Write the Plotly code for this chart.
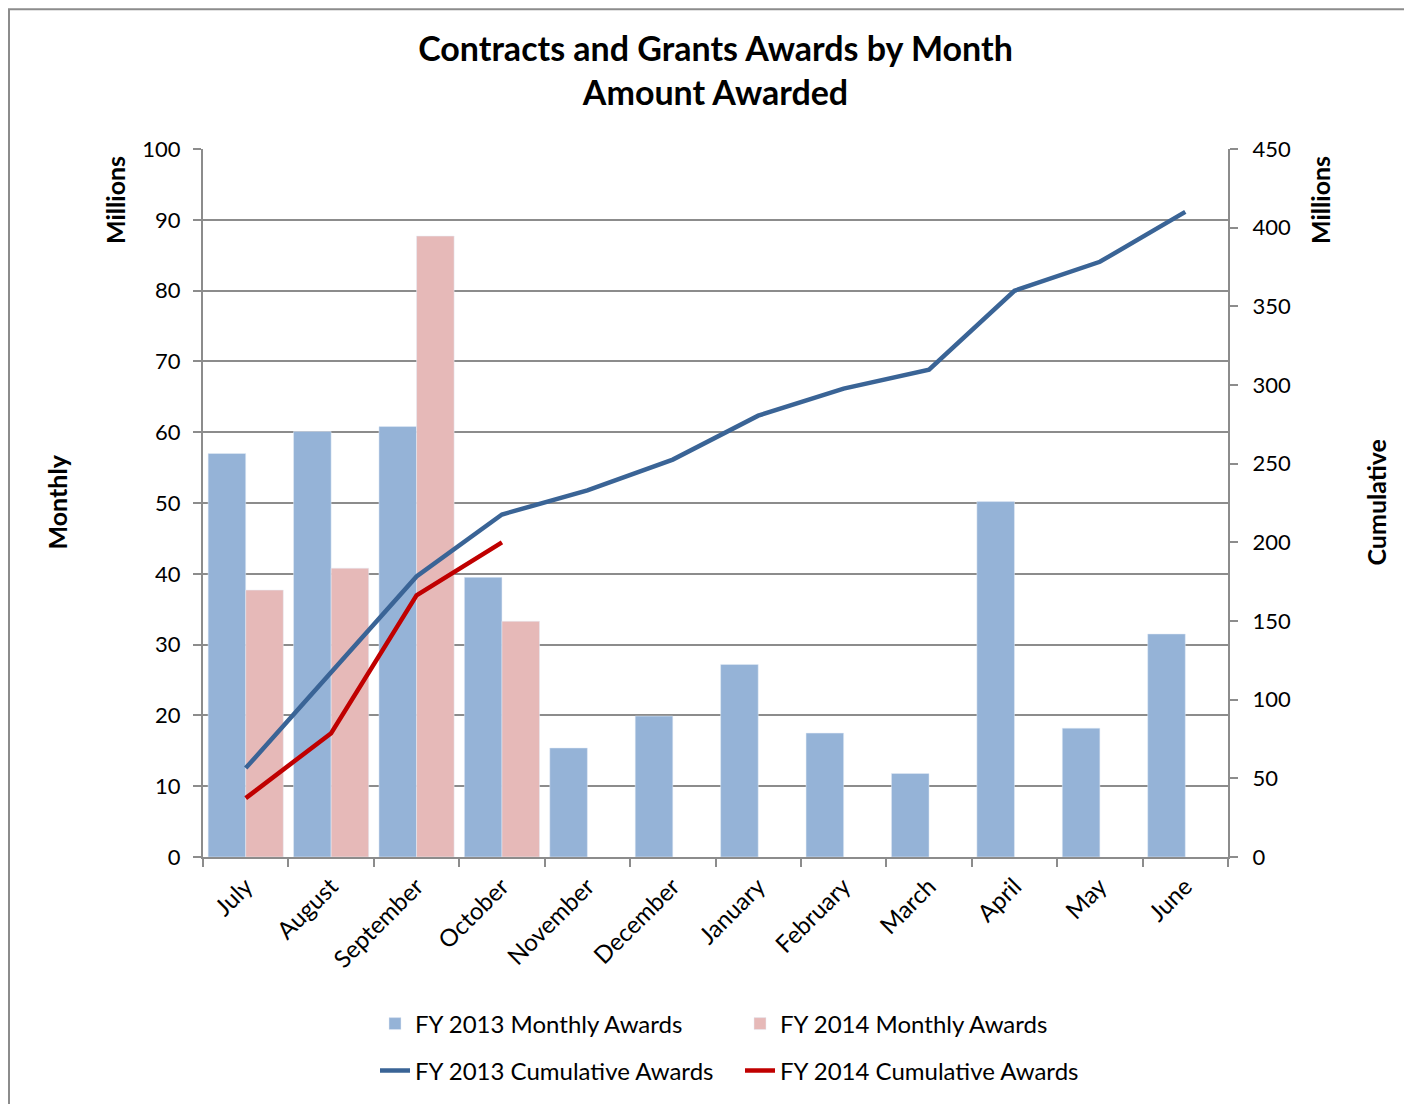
"""Contracts and Grants awards by month: monthly bars plus cumulative lines."""

import plotly.graph_objects as go

months = ["July", "August", "September", "October", "November", "December",
          "January", "February", "March", "April", "May", "June"]
fy13_monthly = [57.0, 60.1, 60.8, 39.5, 15.4, 19.9, 27.2, 17.5, 11.8, 50.2, 18.2, 31.5]
fy14_monthly = [37.7, 40.8, 87.7, 33.3]
fy13_cumulative = [56.5, 117.0, 178.3, 217.7, 233.0, 252.6, 280.5, 297.7, 309.7, 359.9, 378.3, 410.0]
fy14_cumulative = [37.4, 78.7, 166.3, 200.0]

_FONT = "Lato"
_GRID = "#8c8c8c"
_FY13_BAR = "#95B3D7"
_FY14_BAR = "#E6B9B8"
_FY13_LINE = "#3A6496"
_FY14_LINE = "#C00000"

# the page body adds 8px, so the figure is drawn 8px in from the screen edge
_OFF = 8
_W, _H = 1412 - _OFF, 1104 - _OFF
_PL, _PR, _PT, _PB = 203, 1228, 149, 858  # plot area, in screen pixels
_PW, _PH = _PR - _PL, _PB - _PT


def _px(x):
    return (x - _PL) / _PW


def _py(y):
    return (_PB - y) / _PH


fig = go.Figure()
fig.add_trace(go.Bar(x=months, y=fy13_monthly, name="FY 2013 Monthly Awards",
                     marker_color=_FY13_BAR, legend="legend"))
fig.add_trace(go.Bar(x=months[:len(fy14_monthly)], y=fy14_monthly,
                     name="FY 2014 Monthly Awards", marker_color=_FY14_BAR,
                     legend="legend"))
fig.add_trace(go.Scatter(x=months, y=fy13_cumulative, name="FY 2013 Cumulative Awards",
                         mode="lines", yaxis="y2", legend="legend2",
                         line=dict(color=_FY13_LINE, width=4.5)))
fig.add_trace(go.Scatter(x=months[:len(fy14_cumulative)], y=fy14_cumulative,
                         name="FY 2014 Cumulative Awards", mode="lines", yaxis="y2",
                         legend="legend2", line=dict(color=_FY14_LINE, width=4.5)))

axis_title = dict(xref="paper", yref="paper", showarrow=False, textangle=-90,
                  xanchor="center", yanchor="middle",
                  font=dict(family=_FONT, size=25, color="black"))
legend_style = dict(orientation="h", xanchor="left", yanchor="middle",
                    entrywidth=320, font=dict(family=_FONT, size=24),
                    traceorder="normal", bgcolor="rgba(0,0,0,0)")
tick_style = dict(showline=True, linecolor=_GRID, linewidth=2, ticks="outside",
                  ticklen=8, tickcolor=_GRID, tickwidth=2, tickfont=dict(size=22))

fig.update_layout(
    width=_W,
    height=_H,
    paper_bgcolor="white",
    plot_bgcolor="white",
    font=dict(family=_FONT, size=22, color="black"),
    title=dict(text="<b>Contracts and Grants Awards by Month<br>Amount Awarded</b>",
               x=0.5, xref="paper", xanchor="center",
               y=1 - (61 - _OFF) / _H, yref="container", yanchor="middle",
               font=dict(family=_FONT, size=34, color="black")),
    barmode="group",
    bargap=0.12,
    bargroupgap=0,
    margin=dict(l=_PL - _OFF, r=1412 - _PR, t=_PT - _OFF, b=1104 - _PB),
    xaxis=dict(tick_style, tickson="boundaries", tickangle=-45, showgrid=False,
               ticklabelstandoff=4, tickfont=dict(size=24)),
    yaxis=dict(tick_style, range=[0, 100], dtick=10, ticklabelstandoff=8,
               showgrid=True, gridcolor=_GRID, gridwidth=2, zeroline=False),
    yaxis2=dict(tick_style, range=[0, 450], dtick=50, overlaying="y", side="right",
                ticklabelstandoff=10, showgrid=False, zeroline=False),
    legend=dict(legend_style, x=_px(375), y=_py(1024)),
    legend2=dict(legend_style, x=_px(375), y=_py(1071)),
    showlegend=True,
    annotations=[
        dict(axis_title, text="<b>Millions</b>", x=_px(115), y=_py(200)),
        dict(axis_title, text="<b>Monthly</b>", x=_px(57), y=_py(503)),
        dict(axis_title, text="<b>Millions</b>", x=_px(1320), y=_py(200)),
        dict(axis_title, text="<b>Cumulative</b>", x=_px(1376), y=_py(503)),
    ],
    shapes=[dict(type="rect", xref="paper", yref="paper",
                 x0=_px(9), x1=_px(1411), y0=_py(1120), y1=_py(9),
                 line=dict(color="#8c8c8c", width=2), layer="below")],
)

fig.write_html("out.html")
